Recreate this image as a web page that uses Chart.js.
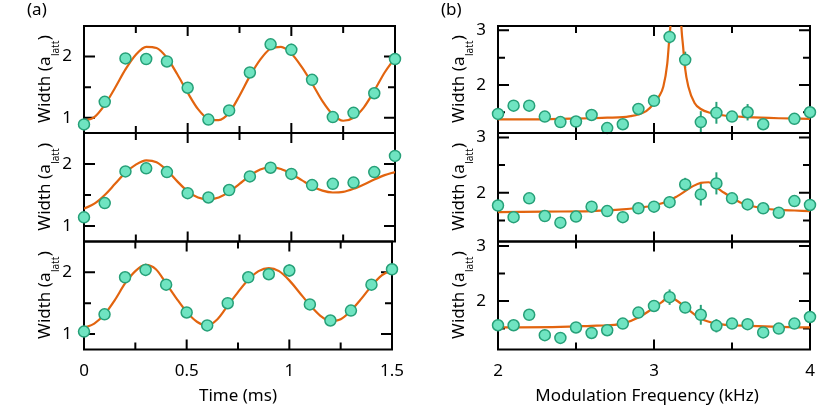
<!DOCTYPE html>
<html>
<head>
<meta charset="utf-8">
<script src="https://cdn.jsdelivr.net/npm/chart.js@4"></script>
<style>
  html, body { margin: 0; padding: 0; background: #fff; }
  #wrap { position: relative; width: 830px; height: 415px; }
  #wrap canvas { position: absolute; top: 0; }
</style>
</head>
<body>
<div id="wrap">
  <canvas id="a1" width="415" height="415" style="left:0"></canvas>
  <canvas id="a2" width="415" height="415" style="left:0"></canvas>
  <canvas id="a3" width="415" height="415" style="left:0"></canvas>
  <canvas id="b1" width="415" height="415" style="left:415px"></canvas>
  <canvas id="b2" width="415" height="415" style="left:415px"></canvas>
  <canvas id="b3" width="415" height="415" style="left:415px"></canvas>
</div>
<script>
// (a) width vs time
const timeMs = [0, 0.1, 0.2, 0.3, 0.4, 0.5, 0.6, 0.7, 0.8, 0.9, 1.0, 1.1, 1.2, 1.3, 1.4, 1.5];
const widthA1 = [0.89, 1.26, 1.97, 1.96, 1.92, 1.49, 0.97, 1.12, 1.74, 2.20, 2.11, 1.62, 1.01, 1.08, 1.40, 1.96];
const errA1 = [0.03, 0.04, 0.04, 0.03, 0.04, 0.08, 0.07, 0.04, 0.04, 0.04, 0.10, 0.04, 0.04, 0.04, 0.04, 0.04];
const widthA2 = [1.14, 1.37, 1.88, 1.93, 1.87, 1.53, 1.46, 1.58, 1.80, 1.94, 1.84, 1.66, 1.68, 1.70, 1.87, 2.13];
const errA2 = [0.03, 0.03, 0.04, 0.04, 0.04, 0.07, 0.04, 0.04, 0.04, 0.04, 0.09, 0.04, 0.04, 0.04, 0.04, 0.04];
const widthA3 = [1.04, 1.32, 1.92, 2.04, 1.80, 1.35, 1.14, 1.50, 1.92, 1.97, 2.03, 1.48, 1.22, 1.38, 1.80, 2.05];
const errA3 = [0.03, 0.03, 0.07, 0.10, 0.05, 0.07, 0.04, 0.04, 0.05, 0.08, 0.10, 0.04, 0.04, 0.04, 0.04, 0.04];

// fit curves
const fitTimeMs = [0, 0.05, 0.1, 0.15, 0.2, 0.25, 0.3, 0.35, 0.4, 0.45, 0.5, 0.55, 0.6, 0.65, 0.7, 0.75,
  0.8, 0.85, 0.9, 0.95, 1.0, 1.05, 1.1, 1.15, 1.2, 1.25, 1.3, 1.35, 1.4, 1.45, 1.5];
const fitA1 = [0.95, 1.01, 1.21, 1.49, 1.79, 2.03, 2.16, 2.14, 1.98, 1.71, 1.41, 1.14, 0.98, 0.96, 1.08, 1.36,
  1.68, 1.95, 2.13, 2.16, 2.05, 1.83, 1.56, 1.27, 1.05, 0.95, 1.00, 1.17, 1.44, 1.74, 1.98];
const fitA2 = [1.28, 1.36, 1.50, 1.68, 1.86, 1.99, 2.06, 2.03, 1.90, 1.72, 1.56, 1.46, 1.43, 1.46, 1.55, 1.68,
  1.81, 1.91, 1.95, 1.92, 1.84, 1.74, 1.64, 1.57, 1.54, 1.55, 1.60, 1.67, 1.75, 1.82, 1.87];
const fitA3 = [1.10, 1.17, 1.32, 1.55, 1.82, 2.02, 2.12, 2.05, 1.82, 1.58, 1.36, 1.20, 1.14, 1.24, 1.46, 1.68,
  1.88, 2.02, 2.07, 2.02, 1.87, 1.67, 1.47, 1.30, 1.21, 1.24, 1.38, 1.57, 1.78, 1.95, 2.05];

// (b) width vs modulation frequency
const freqKHz = [2.0, 2.1, 2.2, 2.3, 2.4, 2.5, 2.6, 2.7, 2.8, 2.9, 3.0, 3.1, 3.2, 3.3, 3.4, 3.5, 3.6, 3.7, 3.8, 3.9, 4.0];
const widthB1 = [1.47, 1.62, 1.62, 1.42, 1.32, 1.33, 1.45, 1.21, 1.28, 1.56, 1.71, 2.88, 2.46, 1.32, 1.49, 1.42, 1.50, 1.28, null, 1.38, 1.50];
const errB1 = [0.03, 0.06, 0.04, 0.03, 0.06, 0.03, 0.10, 0.06, 0.03, 0.04, 0.04, 0.12, 0.15, 0.20, 0.20, 0.04, 0.15, 0.04, null, 0.04, 0.04];
const widthB2 = [1.77, 1.56, 1.90, 1.58, 1.46, 1.57, 1.75, 1.67, 1.56, 1.72, 1.75, 1.83, 2.15, 1.97, 2.17, 1.90, 1.79, 1.72, 1.64, 1.85, 1.78];
const errB2 = [0.03, 0.03, 0.03, 0.03, 0.09, 0.03, 0.10, 0.09, 0.03, 0.03, 0.04, 0.10, 0.12, 0.20, 0.20, 0.04, 0.10, 0.05, 0.10, 0.04, 0.04];
const widthB3 = [1.56, 1.56, 1.75, 1.38, 1.33, 1.52, 1.42, 1.47, 1.59, 1.79, 1.91, 2.07, 1.88, 1.75, 1.55, 1.59, 1.58, 1.43, 1.50, 1.59, 1.71];
const errB3 = [0.03, 0.06, 0.03, 0.03, 0.05, 0.03, 0.07, 0.04, 0.03, 0.08, 0.08, 0.14, 0.10, 0.18, 0.12, 0.04, 0.10, 0.04, 0.08, 0.04, 0.04];

const fitFreqB1 = [2.0, 2.2, 2.4, 2.6, 2.7, 2.8, 2.85, 2.9, 2.95, 3.0, 3.03, 3.06, 3.085, 3.097, 3.107, 3.12, 3.14,
  3.16, 3.177, 3.187, 3.198, 3.22, 3.26, 3.3, 3.36, 3.45, 3.6, 3.8, 4.0];
const fitB1 = [1.37, 1.37, 1.38, 1.39, 1.40, 1.41, 1.43, 1.46, 1.52, 1.66, 1.78, 1.97, 2.39, 2.81, 3.15, 3.9, 4.5,
  3.9, 3.0, 2.69, 2.33, 1.97, 1.67, 1.56, 1.49, 1.44, 1.41, 1.39, 1.38];
const fitFreqB2 = [2.0, 2.3, 2.6, 2.8, 2.9, 3.0, 3.1, 3.15, 3.2, 3.25, 3.3, 3.35, 3.4, 3.45, 3.5, 3.55, 3.6, 3.7, 3.8, 3.9, 4.0];
const fitB2 = [1.65, 1.66, 1.67, 1.70, 1.73, 1.77, 1.86, 1.94, 2.03, 2.12, 2.18, 2.19, 2.10, 2.00, 1.91, 1.83, 1.78, 1.72, 1.69, 1.68, 1.67];
const fitFreqB3 = [2.0, 2.4, 2.6, 2.7, 2.8, 2.9, 3.0, 3.05, 3.1, 3.15, 3.2, 3.3, 3.4, 3.5, 3.6, 3.8, 4.0];
const fitB3 = [1.52, 1.53, 1.55, 1.56, 1.59, 1.70, 1.88, 1.98, 2.08, 2.00, 1.89, 1.68, 1.59, 1.56, 1.55, 1.53, 1.52];

// ticks
const timeTickMarks = [0, 0.25, 0.5, 0.75, 1, 1.25, 1.5];
const timeTickLabels = [0, 0.5, 1, 1.5];
const widthTickMarksA = [1, 1.5, 2];
const widthTickLabelsA = [1, 2];
const freqTickMarks = [2, 2.5, 3, 3.5, 4];
const freqTickLabels = [2, 3, 4];
const widthTickMarksB = [1.5, 2, 2.5, 3];
const widthTickLabelsB = [2, 3];

const fitColor = '#e2640f';
const markerFill = '#6fe4c1';
const markerEdge = '#26a078';
const fontFamily = '"Noto Sans", sans-serif';
const fontSize = 17;

// frame positions in the page
const colFrames = [[84, 395], [498, 810]];
const rowFrames = [[26, 133], [133, 241.5], [241.5, 349.5]];
const xAxisH = 40;

const decoPlugin = {
  id: 'panelDeco',
  beforeDatasetsDraw(chart, args, o) {
    const ctx = chart.ctx, a = chart.chartArea;
    const xs = chart.scales.x, ys = chart.scales.y;
    ctx.save();
    // frame
    ctx.strokeStyle = '#000';
    ctx.lineWidth = 2;
    ctx.strokeRect(a.left, a.top, a.right - a.left, a.bottom - a.top);
    // inward ticks on all four sides
    o.xMarks.forEach(v => {
      const px = xs.getPixelForValue(v);
      if (px < a.left + 2 || px > a.right - 2) return;
      const len = o.xLabels.includes(v) ? o.majorLen : o.minorLen;
      ctx.beginPath();
      ctx.moveTo(px, a.bottom); ctx.lineTo(px, a.bottom - len);
      ctx.moveTo(px, a.top); ctx.lineTo(px, a.top + len);
      ctx.stroke();
    });
    o.yMarks.forEach(v => {
      const py = ys.getPixelForValue(v);
      if (py < a.top + 2 || py > a.bottom - 2) return;
      const len = o.yLabels.includes(v) ? o.majorLen + 1 : o.minorLen;
      ctx.beginPath();
      ctx.moveTo(a.left, py); ctx.lineTo(a.left + len, py);
      ctx.moveTo(a.right, py); ctx.lineTo(a.right - len, py);
      ctx.stroke();
    });
    // error bars
    ctx.strokeStyle = markerEdge;
    ctx.lineWidth = 2;
    o.xv.forEach((xv, i) => {
      const yv = o.yv[i], e = o.err[i];
      if (yv == null || e == null) return;
      const px = xs.getPixelForValue(xv);
      ctx.beginPath();
      ctx.moveTo(px, ys.getPixelForValue(yv - e));
      ctx.lineTo(px, ys.getPixelForValue(yv + e));
      ctx.stroke();
    });
    ctx.restore();
  },
  afterDraw(chart, args, o) {
    const ctx = chart.ctx, a = chart.chartArea;
    ctx.save();
    ctx.fillStyle = '#000';
    // y title with subscript
    const big = fontSize + 'px ' + fontFamily, small = '10px ' + fontFamily;
    ctx.font = big;
    const w1 = ctx.measureText('Width (a').width;
    const w3 = ctx.measureText(')').width;
    ctx.font = small;
    const w2 = ctx.measureText('latt').width;
    const total = w1 + w2 + w3;
    ctx.translate(a.left - 34.5, (a.top + a.bottom) / 2);
    ctx.rotate(-Math.PI / 2);
    ctx.textBaseline = 'alphabetic';
    ctx.textAlign = 'left';
    let sx = -total / 2;
    ctx.font = big;
    ctx.fillText('Width (a', sx, 0);
    ctx.font = small;
    ctx.fillText('latt', sx + w1 + 0.5, 9);
    ctx.font = big;
    ctx.fillText(')', sx + w1 + w2 + 1, 0);
    ctx.restore();

    ctx.save();
    ctx.fillStyle = '#000';
    ctx.font = big;
    if (o.letter) {
      ctx.textAlign = 'left';
      ctx.fillText(o.letter, a.left - 57, a.top - 11);
    }
    if (o.xTitle) {
      ctx.textAlign = 'center';
      ctx.fillText(o.xTitle, (a.left + a.right) / 2 + o.xTitleDx, a.bottom + 51);
    }
    ctx.restore();
  }
};

const panels = [
  { id: 'a1', col: 0, row: 0, x: timeMs, y: widthA1, err: errA1, fitX: fitTimeMs, fitY: fitA1, letter: '(a)' },
  { id: 'a2', col: 0, row: 1, x: timeMs, y: widthA2, err: errA2, fitX: fitTimeMs, fitY: fitA2 },
  { id: 'a3', col: 0, row: 2, x: timeMs, y: widthA3, err: errA3, fitX: fitTimeMs, fitY: fitA3, xTitle: 'Time (ms)', xTitleDx: 0 },
  { id: 'b1', col: 1, row: 0, x: freqKHz, y: widthB1, err: errB1, fitX: fitFreqB1, fitY: fitB1, letter: '(b)' },
  { id: 'b2', col: 1, row: 1, x: freqKHz, y: widthB2, err: errB2, fitX: fitFreqB2, fitY: fitB2 },
  { id: 'b3', col: 1, row: 2, x: freqKHz, y: widthB3, err: errB3, fitX: fitFreqB3, fitY: fitB3, xTitle: 'Modulation Frequency (kHz)', xTitleDx: -7 }
];

panels.forEach(p => {
  const colLeft = p.col * 415;
  const [fl, fr] = colFrames[p.col];
  const [ft, fb] = rowFrames[p.row];
  const isTime = p.col === 0;
  const xMarks = isTime ? timeTickMarks : freqTickMarks;
  const xLabels = isTime ? timeTickLabels : freqTickLabels;
  const yMarks = isTime ? widthTickMarksA : widthTickMarksB;
  const yLabels = isTime ? widthTickLabelsA : widthTickLabelsB;
  const tickFont = { family: fontFamily, size: fontSize };

  new Chart(document.getElementById(p.id), {
    type: 'line',
    data: {
      datasets: [
        {
          data: p.fitX.map((x, i) => ({ x: x, y: p.fitY[i] })),
          borderColor: fitColor,
          borderWidth: 2.2,
          pointRadius: 0,
          cubicInterpolationMode: 'monotone',
          order: 2,
          clip: 0
        },
        {
          data: p.x.map((x, i) => ({ x: x, y: p.y[i] })),
          showLine: false,
          pointRadius: 5.5,
          pointBackgroundColor: markerFill,
          pointBorderColor: markerEdge,
          pointBorderWidth: 1.5,
          order: 1,
          clip: false
        }
      ]
    },
    options: {
      responsive: false,
      animation: false,
      devicePixelRatio: 1,
      layout: {
        padding: { left: 0, top: ft, right: 415 - (fr - colLeft), bottom: 415 - fb - xAxisH }
      },
      plugins: {
        legend: { display: false },
        tooltip: { enabled: false },
        panelDeco: {
          xv: p.x, yv: p.y, err: p.err,
          xMarks: xMarks, xLabels: xLabels, yMarks: yMarks, yLabels: yLabels,
          majorLen: 10, minorLen: 7,
          letter: p.letter, xTitle: p.xTitle, xTitleDx: p.xTitleDx || 0
        }
      },
      scales: {
        x: {
          type: 'linear',
          min: isTime ? 0 : 2,
          max: isTime ? 1.5 : 4,
          grid: { display: false, drawTicks: false },
          border: { display: false },
          afterBuildTicks: s => { s.ticks = xLabels.map(v => ({ value: v })); },
          afterFit: s => { s.height = xAxisH; },
          ticks: { display: p.row === 2, padding: 11, font: tickFont, color: '#000', maxRotation: 0, callback: v => String(v) }
        },
        y: {
          type: 'linear',
          min: isTime ? 0.75 : 1.12,
          max: isTime ? 2.5 : 3.08,
          grid: { display: false, drawTicks: false },
          border: { display: false },
          afterBuildTicks: s => { s.ticks = yLabels.map(v => ({ value: v })); },
          afterFit: s => { s.width = fl - colLeft; },
          ticks: { padding: 12, font: tickFont, color: '#000', callback: v => String(v) }
        }
      }
    },
    plugins: [decoPlugin]
  });
});
</script>
</body>
</html>
